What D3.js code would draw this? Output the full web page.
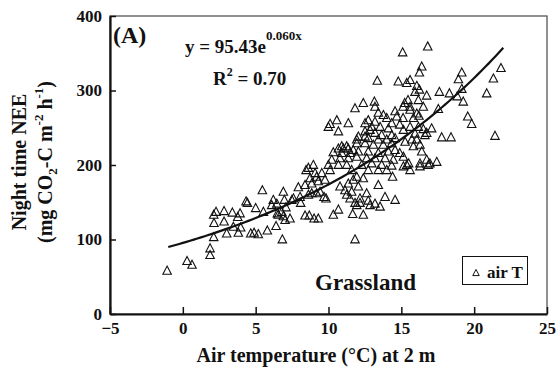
<!DOCTYPE html>
<html><head><meta charset="utf-8">
<script src="https://cdn.jsdelivr.net/npm/d3@7"></script>
<style>
html,body{margin:0;padding:0;background:#fff;}
svg{display:block;font-family:"Liberation Serif","Times New Roman",serif;font-weight:bold;}
</style></head>
<body>
<svg id="chart" width="556" height="375"></svg>
<script>
// ---- data ----
const airT = [
-1.08,0.29,0.63,1.87,1.87,2.12,2.28,2.14,2.12,2.83,2.83,3.01,3.40,3.47,3.77,3.93,3.97,3.81,4.34,4.43,
4.66,4.89,5.00,5.18,5.46,5.53,5.80,6.10,6.21,6.45,6.49,6.40,6.83,6.90,6.97,7.08,6.79,6.55,7.02,7.36,
6.90,7.48,7.59,7.93,8.05,8.09,8.39,8.46,8.62,8.73,8.85,8.96,9.08,9.19,9.30,9.42,9.69,9.83,8.85,8.39,
8.68,9.01,9.30,9.54,9.76,11.82,10.33,10.68,11.66,12.39,13.88,14.57,13.42,13.54,13.19,12.85,12.62,12.73,12.16,11.94,
11.48,11.59,11.13,10.79,9.19,8.62,11.82,12.16,14.40,12.39,12.05,11.25,11.36,11.70,11.94,
11.82,12.39,13.15,13.19,13.42,13.77,14.00,14.57,14.69,10.57,10.11,10.68,11.36,12.51,12.73,13.19,14.34,12.97,13.54,14.11,
12.51,13.19,13.65,14.34,12.05,12.73,13.42,14.00,14.57,11.94,12.51,13.08,13.76,14.34,10.68,11.02,11.36,11.70,10.91,11.48,
12.05,12.73,13.42,14.11,14.57,10.22,10.79,11.36,11.94,12.62,13.19,13.88,14.45,9.99,10.68,11.25,12.28,12.97,13.65,14.34,
10.11,11.59,12.73,13.42,14.00,
15.09,16.81,13.35,14.79,15.37,15.60,16.24,16.40,16.06,16.24,15.94,16.74,16.17,17.61,18.30,18.92,19.15,19.15,18.84,19.25,
19.56,19.83,20.86,21.32,21.84,21.43,17.77,18.41,17.54,9.99,15.23,15.46,15.12,15.60,16.51,16.06,15.83,16.17,16.51,17.08,
16.74,16.06,15.83,16.40,16.74,16.96,17.43,15.37,10.33,10.91,11.25,11.94,12.51,12.85,
15.60,16.21,15.12,14.89,15.60,15.14,15.94,16.62,16.28,15.26,15.72,14.89,15.14,16.28,15.50,15.14,15.60,16.28,16.85
];
const nightNEE = [
58,71,66,88,79,133,137,122,103,138,124,108,136,117,130,135,116,109,151,149,
108,109,142,107,166,137,112,146,153,148,135,118,100,164,153,143,137,133,126,128,
131,153,155,170,157,149,173,193,196,182,175,200,189,184,178,164,157,155,162,132,
132,128,128,189,180,100,133,140,134,133,157,153,173,144,148,146,162,152,155,146,
155,164,166,171,162,160,149,149,184,182,171,160,175,180,184,
276,283,285,278,270,267,263,272,265,260,255,245,256,256,260,258,256,251,251,249,
245,243,240,240,238,236,234,234,236,229,229,227,227,229,222,222,222,220,216,216,
218,218,216,218,220,207,209,209,211,209,209,209,207,200,200,200,200,202,200,199,
193,193,193,193,193,
351,359,313,312,310,314,324,332,306,301,298,293,287,298,296,315,324,302,292,285,
265,255,296,316,330,239,237,237,275,251,283,287,278,278,278,269,263,251,248,249,
243,234,225,218,207,202,204,200,217,225,225,234,238,247,
274,266,263,254,251,247,242,240,227,231,234,216,211,202,202,198,193,198,200
];
const xTicks = [-5,0,5,10,15,20,25];
const yTicks = [0,100,200,300,400];
const fitA = 95.43, fitB = 0.060;
const fitRange = [-1, 22];

// ---- chart ----
const svg = d3.select("#chart");
const x = d3.scaleLinear().domain([-5,25]).range([110,547]);
const y = d3.scaleLinear().domain([0,400]).range([314,16]);

// frame
svg.append("rect").attr("x",110).attr("y",16).attr("width",437).attr("height",298)
  .attr("fill","none").attr("stroke","#555").attr("stroke-width",1.3);

// axes
const xAxis = svg.append("g").attr("transform","translate(0,314)")
  .call(d3.axisBottom(x).tickValues(xTicks).tickSizeInner(-7).tickSizeOuter(0).tickPadding(8).tickFormat(d3.format("d")));
const yAxis = svg.append("g").attr("transform","translate(110,0)")
  .call(d3.axisLeft(y).tickValues(yTicks).tickSizeInner(-6).tickSizeOuter(0).tickPadding(8).tickFormat(d3.format("d")));
[xAxis,yAxis].forEach(g=>{
  g.select(".domain").attr("stroke","#111").attr("stroke-width",2.2);
  g.selectAll(".tick line").attr("stroke","#111").attr("stroke-width",1.5);
  g.selectAll(".tick text").attr("fill","#111").style("font-size","17px")
    .style("font-family","'Liberation Serif',serif").style("font-weight","bold");
});

// points
const tri = s => `M0,${-s*0.55}L${s*0.5},${s*0.4}L${-s*0.5},${s*0.4}Z`;
svg.append("g").selectAll("path").data(airT.map((t,i)=>[t,nightNEE[i]])).join("path")
  .attr("transform",d=>`translate(${x(d[0])},${y(d[1])})`)
  .attr("d",tri(8.5)).attr("fill","none").attr("stroke","#111").attr("stroke-width",1.1);

// fitted curve
const fit = d3.range(fitRange[0], fitRange[1]+0.001, 0.25).map(t=>[t, fitA*Math.exp(fitB*t)]);
svg.append("path").datum(fit)
  .attr("d", d3.line().x(d=>x(d[0])).y(d=>y(d[1])))
  .attr("fill","none").attr("stroke","#111").attr("stroke-width",2.2);

// annotations
svg.append("text").attr("x",113).attr("y",43).style("font-size","24px").attr("fill","#111").text("(A)");
const eq = svg.append("text").attr("x",185).attr("y",53).style("font-size","19px").attr("fill","#111");
eq.append("tspan").text("y = 95.43e");
eq.append("tspan").attr("dy",-13).style("font-size","13px").text("0.060x");
const r2 = svg.append("text").attr("x",213).attr("y",85).style("font-size","19px").attr("fill","#111");
r2.append("tspan").text("R");
r2.append("tspan").attr("dy",-9).style("font-size","12px").text("2");
r2.append("tspan").attr("dy",9).text(" = 0.70");
svg.append("text").attr("x",315).attr("y",290).style("font-size","23px").attr("fill","#111").text("Grassland");

// legend
svg.append("rect").attr("x",462.5).attr("y",256.5).attr("width",65).attr("height",28)
  .attr("fill","#fff").attr("stroke","#111").attr("stroke-width",1);
svg.append("path").attr("transform","translate(476,273)").attr("d",tri(6.5))
  .attr("fill","none").attr("stroke","#111").attr("stroke-width",1);
svg.append("text").attr("x",487).attr("y",278).style("font-size","17px").attr("fill","#111").text("air T");

// axis titles
svg.append("text").attr("x",316).attr("y",362).attr("text-anchor","middle")
  .style("font-size","20px").attr("fill","#111").text("Air temperature (°C) at 2 m");
svg.append("text").attr("transform","translate(26,162) rotate(-90)").attr("text-anchor","middle")
  .style("font-size","20px").attr("fill","#111").text("Night time NEE");
const yt = svg.append("text").attr("transform","translate(52,162) rotate(-90)").attr("text-anchor","middle")
  .style("font-size","20px").attr("fill","#111");
yt.append("tspan").text("(mg CO");
yt.append("tspan").attr("dy",5).style("font-size","13px").text("2");
yt.append("tspan").attr("dy",-5).text("-C m");
yt.append("tspan").attr("dy",-9).style("font-size","13px").text("-2");
yt.append("tspan").attr("dy",9).text(" h");
yt.append("tspan").attr("dy",-9).style("font-size","13px").text("-1");
yt.append("tspan").attr("dy",9).text(")");
</script>
</body></html>
